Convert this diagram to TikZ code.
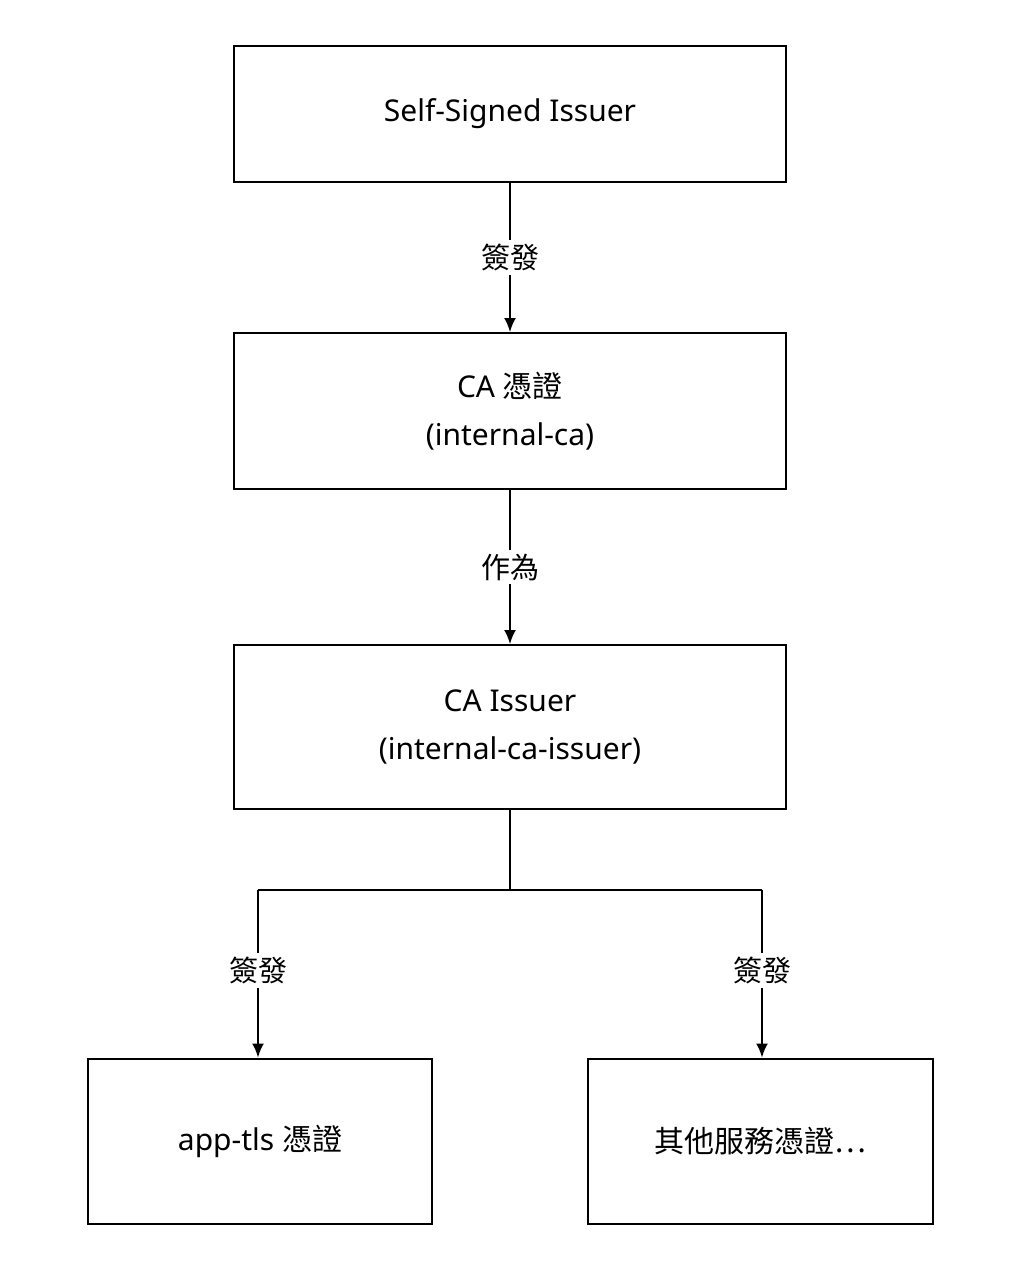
\documentclass[tikz,border=0pt]{standalone}
\usepackage{fontspec}
\setmainfont{Noto Sans}
\newfontfamily\cjk{Noto Sans CJK TC}
\usetikzlibrary{arrows.meta}
\begin{document}
\begin{tikzpicture}[x=1pt,y=-1pt,
  box/.style={draw,line width=2pt,inner sep=0pt,align=center,font=\fontsize{30}{48}\selectfont},
  lbl/.style={fill=white,inner sep=4pt,font=\cjk\fontsize{29}{34}\selectfont},
  arr/.style={line width=2pt,-{Latex[length=14pt,width=12pt]}},
  ln/.style={line width=2pt}]
\useasboundingbox[fill=white] (0,0) rectangle (1024,1280);
\node[box,minimum width=552pt,minimum height=136pt] (a) at (510,114) {Self-Signed Issuer};
\node[box,minimum width=552pt,minimum height=156pt] (b) at (510,411) {CA {\cjk 憑證}\\(internal-ca)};
\node[box,minimum width=552pt,minimum height=164pt] (c) at (510,727) {CA Issuer\\(internal-ca-issuer)};
\node[box,minimum width=344pt,minimum height=165pt] (d) at (260,1141) {app-tls {\cjk 憑證}};
\node[box,minimum width=345pt,minimum height=165pt] (e) at (760,1141) {\cjk 其他服務憑證…};
\draw[arr] (a) -- node[lbl]{簽發} (b);
\draw[arr] (b) -- node[lbl]{作為} (c);
\coordinate (m) at (510,890);
\coordinate (l) at (258,890);
\coordinate (r) at (762,890);
\draw[ln] (c.south) -- (m);
\draw[ln] (l) -- (r);
\draw[arr] (l) -- node[lbl,pos=0.48]{簽發} (l |- d.north);
\draw[arr] (r) -- node[lbl,pos=0.48]{簽發} (r |- e.north);
\end{tikzpicture}
\end{document}
